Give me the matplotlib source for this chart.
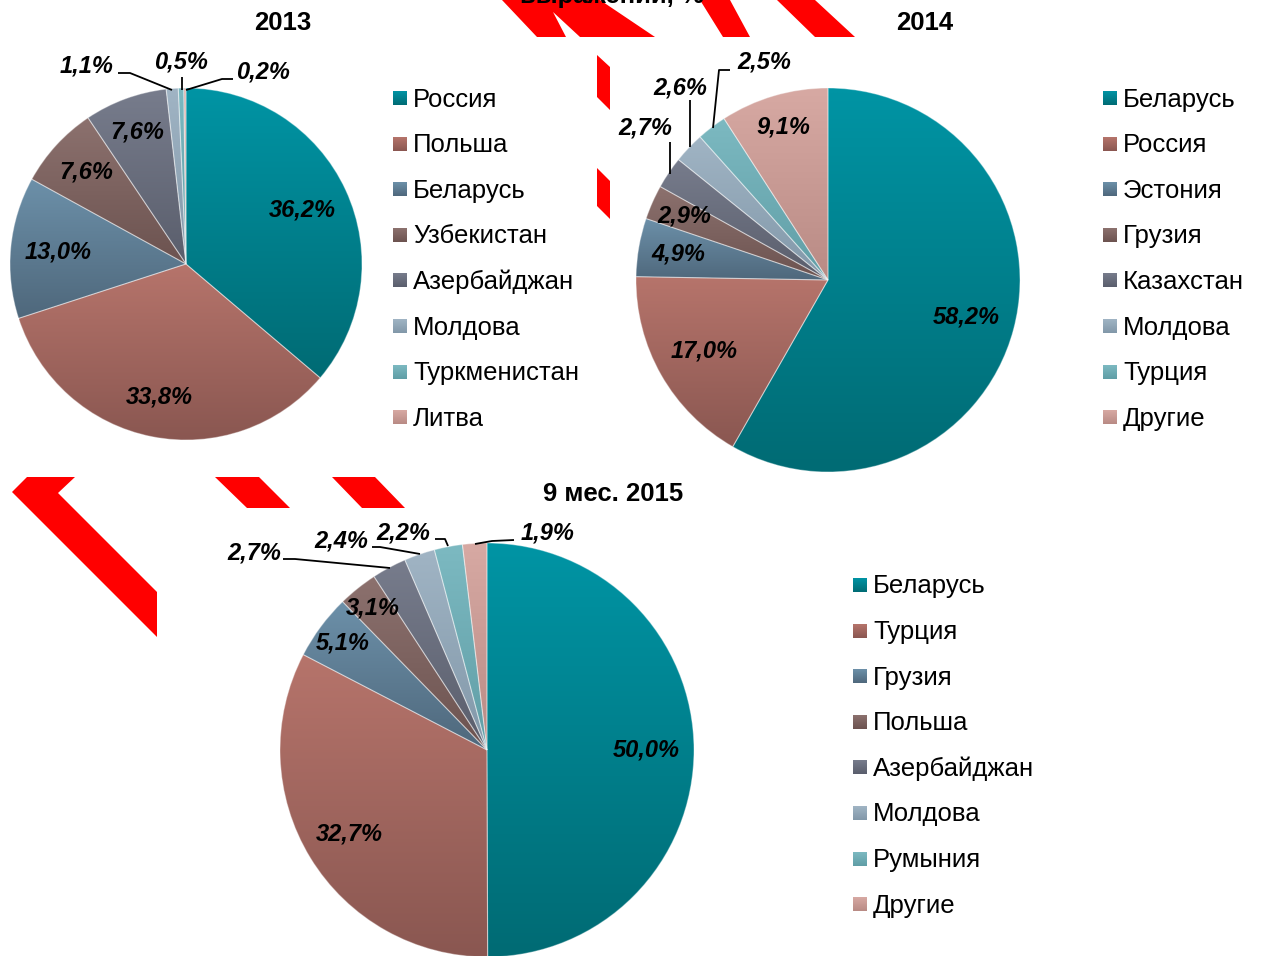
"""Структура экспорта: три круговые диаграммы (2013, 2014, 9 мес. 2015)."""
import numpy as np
import matplotlib
matplotlib.use("Agg")
import matplotlib.pyplot as plt
from matplotlib.patches import Polygon, Rectangle
from matplotlib.colors import LinearSegmentedColormap

plt.rcParams["font.family"] = ["Liberation Sans", "DejaVu Sans"]

W, H = 1263, 956

# --- data -------------------------------------------------------------
countries_2013 = ["Россия", "Польша", "Беларусь", "Узбекистан", "Азербайджан",
                  "Молдова", "Туркменистан", "Литва"]
shares_2013 = [36.2, 33.8, 13.0, 7.6, 7.6, 1.1, 0.5, 0.2]

countries_2014 = ["Беларусь", "Россия", "Эстония", "Грузия", "Казахстан",
                  "Молдова", "Турция", "Другие"]
shares_2014 = [58.2, 17.0, 4.9, 2.9, 2.7, 2.6, 2.5, 9.1]

countries_2015 = ["Беларусь", "Турция", "Грузия", "Польша", "Азербайджан",
                  "Молдова", "Румыния", "Другие"]
shares_2015 = [50.0, 32.7, 5.1, 3.1, 2.7, 2.4, 2.2, 1.9]

# slice colours by position: (top, bottom) of the vertical gradient
slice_colors = [("#0094a4", "#006b74"), ("#b6746b", "#8a5751"),
                ("#6c90a9", "#4f687c"), ("#8c716e", "#6c5350"),
                ("#777c8c", "#5a5e6c"), ("#a0b4c4", "#8298a9"),
                ("#7cb9c1", "#609ea6"), ("#d7a9a3", "#b98b85")]

fig = plt.figure(figsize=(W / 100, H / 100), dpi=100)
ax = fig.add_axes([0, 0, 1, 1])


def grad_fill(patch, c_top, c_bot, z):
    path = patch.get_path().transformed(patch.get_patch_transform())
    (x0, y0), (x1, y1) = path.get_extents().get_points()
    cmap = LinearSegmentedColormap.from_list("g", [c_bot, c_top])
    im = ax.imshow(np.linspace(0, 1, 64).reshape(-1, 1), cmap=cmap, origin="lower",
                   extent=(x0, x1, y0, y1), aspect="auto",
                   interpolation="bilinear", zorder=z)
    im.set_clip_path(patch)


def label(x, y, s, **kw):
    ax.text(x, H - y, s, fontsize=17, fontweight="bold", fontstyle="italic",
            ha="center", va="center", **kw)


def leader(pts):
    xs = [p[0] for p in pts]
    ys = [H - p[1] for p in pts]
    ax.plot(xs, ys, color="black", lw=1.3, zorder=5, solid_capstyle="butt")


def draw_pie(shares, cx, cy, r, fracs, outer):
    wedges, _ = ax.pie(shares, center=(cx, H - cy), radius=r, startangle=90,
                       counterclock=False,
                       wedgeprops=dict(linewidth=0.8, edgecolor=(1, 1, 1, 0.35)))
    total = sum(shares)
    cum = 0
    for i, (w, v) in enumerate(zip(wedges, shares)):
        grad_fill(w, *slice_colors[i], z=1)
        w.set_facecolor("none")
        w.set_zorder(2)
        mid = np.deg2rad(90 - (cum + v / 2) / total * 360)
        cum += v
        txt = f"{v:.1f}%".replace(".", ",")
        if fracs[i] is not None:
            label(cx + fracs[i] * r * np.cos(mid), cy - fracs[i] * r * np.sin(mid), txt)
        else:
            (tx, ty), pts = outer[i]
            label(tx, ty, txt)
            leader(pts)


def draw_legend(names, x, y0, step=45.6):
    for i, name in enumerate(names):
        y = y0 + i * step
        sq = Rectangle((x, H - y - 7), 14, 14, facecolor="none", edgecolor="none")
        ax.add_patch(sq)
        grad_fill(sq, *slice_colors[i], z=3)
        ax.text(x + 20, H - y - 1.5, name, fontsize=18.5, ha="left", va="center")


# --- 2013 --------------------------------------------------------------
draw_pie(shares_2013, 186, 264, 176,
         [0.73, 0.77, 0.73, 0.77, 0.80, None, None, None],
         {5: ((87, 66), [(118, 73), (130, 73), (172, 90)]),
          6: ((181, 62), [(182, 77), (182, 90)]),
          7: ((263, 72), [(233, 79), (222, 79), (186, 90)])})
ax.text(283, H - 23, "2013", fontsize=18.5, fontweight="bold", ha="center", va="center")
draw_legend(countries_2013, 393, 98)

# --- 2014 --------------------------------------------------------------
draw_pie(shares_2014, 828, 280, 192,
         [0.745, 0.745, 0.79, 0.82, None, None, None, 0.83],
         {4: ((645, 128), [(670, 142), (670, 174)]),
          5: ((680, 88), [(690, 100), (690, 147)]),
          6: ((764, 62), [(730, 70), (719, 70), (713, 128)])})
ax.text(925, H - 23, "2014", fontsize=18.5, fontweight="bold", ha="center", va="center")
draw_legend(countries_2014, 1103, 98)

# --- 9 мес. 2015 -------------------------------------------------------
draw_pie(shares_2015, 487, 750, 207,
         [0.77, 0.78, 0.87, 0.88, None, None, None, None],
         {4: ((254, 553), [(283, 559), (295, 559), (390, 568)]),
          5: ((341, 541), [(372, 547), (380, 547), (420, 554)]),
          6: ((403, 533), [(435, 539), (445, 539), (448, 546)]),
          7: ((548, 533), [(475, 544), (492, 541), (514, 540)])})
ax.text(613, H - 494, "9 мес. 2015", fontsize=18.5, fontweight="bold",
        ha="center", va="center")
draw_legend(countries_2015, 853, 585)

# cut-off slide header
ax.text(612, H - 3, "выражении, %", fontsize=18.5, fontweight="bold",
        ha="center", va="baseline", zorder=6)

# red decorative stripes of the slide background
red_shapes = [
    [(502, 0), (600, 0), (655, 37), (537, 37)],
    [(700, 0), (730, 0), (750, 37), (723, 37)],
    [(777, 0), (815, 0), (855, 37), (815, 37)],
    [(597, 55), (610, 67), (610, 110), (597, 97)],
    [(597, 168), (610, 181), (610, 219), (597, 206)],
    [(12, 492), (27, 477), (75, 477), (58, 493), (157, 592), (157, 637)],
    [(215, 477), (259, 477), (290, 508), (247, 508)],
    [(332, 477), (375, 477), (405, 508), (362, 508)],
]
for shp in red_shapes:
    ax.add_patch(Polygon([(x, H - y) for x, y in shp], closed=True,
                         facecolor="#ff0000", edgecolor="none", zorder=0.5))
ax.add_patch(Polygon([(553, H - 12), (580, H - 37), (566, H - 37)], closed=True,
                     facecolor="white", edgecolor="none", zorder=0.6))

ax.set_xlim(0, W)
ax.set_ylim(0, H)
ax.set_aspect("auto")
ax.axis("off")

fig.savefig("out.png", dpi=100)
